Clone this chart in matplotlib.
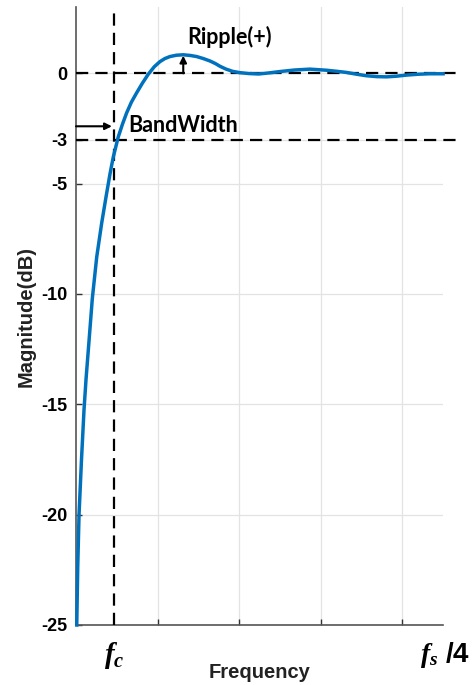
import numpy as np
import matplotlib
matplotlib.use("Agg")
import matplotlib.pyplot as plt
from matplotlib.transforms import blended_transform_factory

plt.rcParams["font.family"] = ["Liberation Sans", "DejaVu Sans"]
plt.rcParams["mathtext.fontset"] = "custom"
plt.rcParams["mathtext.it"] = "Liberation Serif:italic:bold"
plt.rcParams["mathtext.rm"] = "Liberation Serif:bold"

# ── Frequency response samples (freq in grid units, fs/4 = 4.5) ────────────
freq = [0.009, 0.021, 0.037, 0.067, 0.098, 0.123, 0.159, 0.200, 0.254, 0.315,
        0.368, 0.417, 0.457, 0.518, 0.570, 0.621, 0.680, 0.744, 0.815, 0.886,
        0.960, 1.029, 1.090, 1.152, 1.230, 1.315, 1.400, 1.479, 1.560, 1.642,
        1.710, 1.765, 1.840, 1.920, 2.010, 2.120, 2.239, 2.370, 2.500, 2.680,
        2.868, 3.072, 3.200, 3.317, 3.440, 3.562, 3.690, 3.808, 3.930, 4.053,
        4.200, 4.338, 4.501]
mag_db = [-25.0, -22.37, -20.0, -17.52, -15.25, -13.85, -12.15, -10.2, -8.32, -6.78,
          -5.60, -4.55, -3.79, -2.88, -2.30, -1.79, -1.30, -0.88, -0.44, -0.04,
          0.30, 0.53, 0.67, 0.76, 0.82, 0.84, 0.81, 0.76, 0.67, 0.56,
          0.44, 0.32, 0.19, 0.09, 0.03, -0.01, -0.03, 0.02, 0.08, 0.15,
          0.19, 0.14, 0.09, 0.04, -0.04, -0.11, -0.15, -0.16, -0.13, -0.08,
          -0.04, -0.02, -0.02]

fc = 0.47
f_end = 4.5
bw_level = -3
ref_level = 0
y_ticks = [0, -3, -5, -10, -15, -20, -25]
y_ticklabels = ["0", "-3", "-5", "-10", "-15", "-20", "-25"]
grid_x = [1, 2, 3, 4]

fig = plt.figure(figsize=(4.76, 6.85), dpi=100)
ax = fig.add_axes([0.1597, 0.0876, 0.771, 0.902])

ax.plot(freq, mag_db, color="#0072BD", lw=2.5, zorder=4, clip_on=False,
        solid_joinstyle="round")

dash = (0, (5.5, 3.2))
ax.axvline(fc, color="k", lw=1.6, ls=dash, zorder=3)
for lvl in (ref_level, bw_level):
    ax.plot([0, 4.71], [lvl, lvl], color="k", lw=1.6, ls=dash, zorder=3, clip_on=False)

note_font = dict(family=["Lato", "DejaVu Sans"], fontweight="bold", fontsize=15.5)

# ripple marker at the peak
i_pk = int(np.argmax(mag_db))
ax.annotate("", xy=(freq[i_pk], mag_db[i_pk] - 0.04),
            xytext=(freq[i_pk], ref_level),
            arrowprops=dict(arrowstyle="-|>", color="k", lw=1.5, mutation_scale=10,
                            shrinkA=0, shrinkB=0), zorder=5)
ax.text(freq[i_pk] + 0.05, 1.65, "Ripple(+)", va="center", ha="left", **note_font)

# bandwidth marker
ax.annotate("", xy=(fc - 0.03, bw_level + 0.6), xytext=(0.0, bw_level + 0.6),
            arrowprops=dict(arrowstyle="-|>", color="k", lw=1.5, mutation_scale=10,
                            shrinkA=0, shrinkB=0), zorder=5)
ax.text(0.64, bw_level + 0.65, "BandWidth", va="center", ha="left", **note_font)

ax.set_xlim(0, f_end)
ax.set_ylim(-25, 3)
ax.set_xticks(grid_x)
ax.set_xticklabels([])
ax.set_yticks(y_ticks)
ax.set_yticklabels(y_ticklabels)
ax.tick_params(axis="both", direction="in", length=4, width=1, color="#333333",
               labelsize=13, pad=6)
for lab in ax.get_yticklabels():
    lab.set_fontweight("bold")
ax.grid(True, color="#e3e3e3", lw=0.9, zorder=0)
ax.set_axisbelow(True)

for side in ("top", "right"):
    ax.spines[side].set_visible(False)
for side in ("left", "bottom"):
    ax.spines[side].set_color("#555555")
    ax.spines[side].set_linewidth(1.2)

trans = blended_transform_factory(ax.transData, ax.transAxes)
ax.text(fc, -0.025, r"$f_c$", transform=trans, ha="center", va="top", fontsize=21)
ax.text(f_end + 0.02, -0.025, r"$f_s$ /4", transform=trans, ha="center", va="top",
        fontsize=20, fontweight="bold")

ax.set_xlabel("Frequency", fontsize=14.5, fontweight="bold", color="#222222")
ax.xaxis.set_label_coords(0.5, -0.062)
ax.set_ylabel("Magnitude(dB)", fontsize=14.5, fontweight="bold", color="#222222", labelpad=4)

fig.savefig("out.png", dpi=100)
